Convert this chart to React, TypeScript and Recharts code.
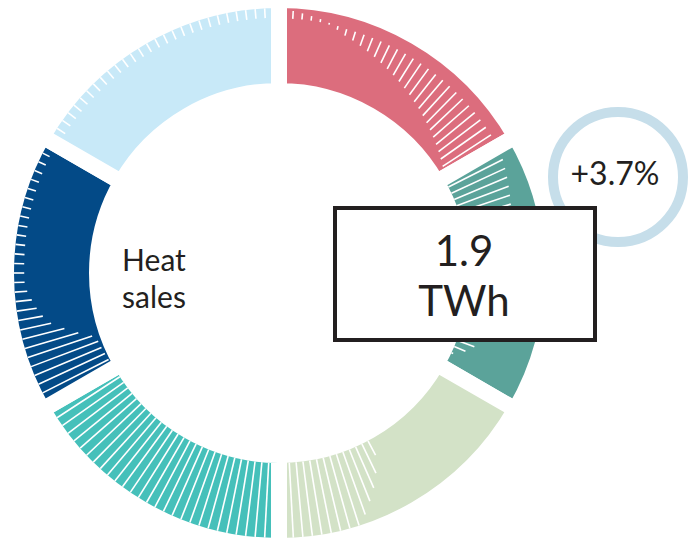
import React from 'react';
import { PieChart, Pie, Cell } from 'recharts';

// Six equal segments of the ring, clockwise from 12 o'clock
const segments = ['A', 'B', 'C', 'D', 'E', 'F'];
const shares = [1, 1, 1, 1, 1, 1];
const colors = ['#dc6d7d', '#5ba39a', '#d3e2c7', '#45c0ba', '#034a87', '#c8e9f8'];

const centerLabel = ['Heat', 'sales'];
const totalValue = '1.9';
const totalUnit = 'TWh';
const changeLabel = '+3.7%';

const data = segments.map((name, i) => ({ name, value: shares[i] }));

// Hatching profile per segment: [t, innerFrac, outerFrac] keyframes across the segment
const hatch: number[][][] = [
    [[0, 0.86, 1], [0.15, 0.86, 0.9], [0.2, 0.84, 0.86], [0.25, 0.76, 0.84], [1, 0.02, 0.84]],
    [[0, 0, 0.85], [0.86, 0, 0.24], [0.92, 0, 0], [1, 0, 0]],
    [[0, 0, 0], [0.5, 0, 0], [0.58, 0, 0.5], [0.7, 0, 1], [1, 0, 1]],
    [[0, 0, 1], [1, 0, 1]],
    [[0, 0, 1], [0.18, 0.05, 1], [0.29, 0.57, 1], [0.34, 0.7, 1], [0.45, 0.86, 1], [1, 0.9, 1]],
    [[0, 0.87, 1], [1, 0.87, 1]],
];

const CX = 279;
const CY = 273;
const GAP = 16;
const R_IN = 190;
const R_OUT = 265;
const TICKS = 29;
const RAD = Math.PI / 180;

const profileAt = (keys: number[][], t: number) => {
    for (let k = 1; k < keys.length; k++) {
        if (t <= keys[k][0]) {
            const a = keys[k - 1];
            const b = keys[k];
            const f = (t - a[0]) / (b[0] - a[0] || 1);
            return [a[1] + (b[1] - a[1]) * f, a[2] + (b[2] - a[2]) * f];
        }
    }
    const last = keys[keys.length - 1];
    return [last[1], last[2]];
};

const renderHatch = (props: any) => {
    const { index } = props;
    const start = props.startAngle ?? 90 - index * 60;
    const end = props.endAngle ?? 90 - (index + 1) * 60;
    const keys = hatch[index];
    const lines = [];
    for (let k = 0; k < TICKS; k++) {
        const t = (k + 0.5) / TICKS;
        const a = (start + (end - start) * t) * RAD;
        const [lo, hi] = profileAt(keys, t);
        if (hi - lo < 0.015) continue;
        const r1 = R_IN + (R_OUT - R_IN) * lo;
        const r2 = R_IN + (R_OUT - R_IN) * hi;
        lines.push(
            <line
                key={k}
                x1={CX + r1 * Math.cos(a)}
                y1={CY - r1 * Math.sin(a)}
                x2={CX + r2 * Math.cos(a)}
                y2={CY - r2 * Math.sin(a)}
                stroke="#fff"
                strokeWidth={1.6}
            />
        );
    }
    return <g key={`hatch-${index}`}>{lines}</g>;
};

const textStyle: React.CSSProperties = {
    position: 'absolute',
    fontFamily: 'Lato, sans-serif',
    color: '#231f20',
    textAlign: 'center',
    lineHeight: 1,
    whiteSpace: 'nowrap',
};

const App: React.FC = () => {
    return (
        <div style={{ position: 'fixed', left: 0, top: 0, width: 699, height: 539, background: '#fff' }}>
            <PieChart width={699} height={539} margin={{ top: 0, right: 0, bottom: 0, left: 0 }}>
                <Pie
                    data={data}
                    dataKey="value"
                    nameKey="name"
                    cx={CX}
                    cy={CY}
                    innerRadius={R_IN - GAP / 2}
                    outerRadius={R_OUT + GAP / 2}
                    startAngle={90}
                    endAngle={-270}
                    stroke="#fff"
                    strokeWidth={GAP}
                    label={renderHatch}
                    labelLine={false}
                    isAnimationActive={false}
                >
                    {data.map((d, i) => (
                        <Cell key={d.name} fill={colors[i]} />
                    ))}
                </Pie>
            </PieChart>

            <div style={{ ...textStyle, left: 94, top: 241, width: 120, fontSize: 30, lineHeight: '37px' }}>
                {centerLabel[0]}
                <br />
                {centerLabel[1]}
            </div>

            <svg width={699} height={539} style={{ position: 'absolute', left: 0, top: 0 }}>
                <circle cx={618} cy={177} r={65} fill="none" stroke="#c6deea" strokeWidth={10} />
            </svg>
            <div style={{ ...textStyle, left: 555, top: 157, width: 120, fontSize: 32 }}>{changeLabel}</div>

            <div
                style={{
                    position: 'absolute',
                    left: 333,
                    top: 206,
                    width: 264,
                    height: 136,
                    boxSizing: 'border-box',
                    border: '4.5px solid #231f20',
                    background: '#fff',
                }}
            />
            <div style={{ ...textStyle, left: 404, top: 225, width: 120, fontSize: 42, lineHeight: '50px' }}>
                {totalValue}
                <br />
                {totalUnit}
            </div>
        </div>
    );
};

export default App;
